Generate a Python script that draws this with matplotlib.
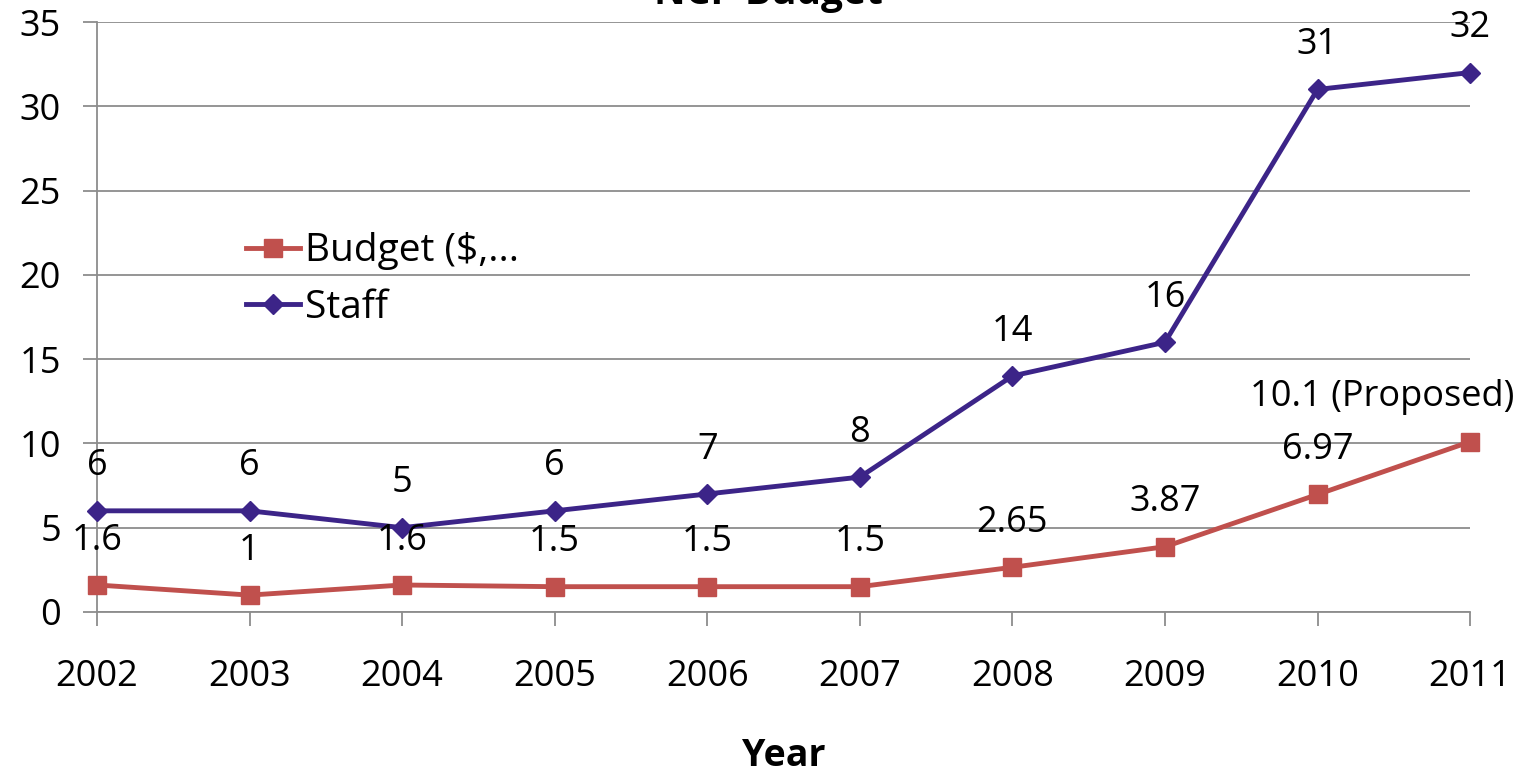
import matplotlib.pyplot as plt

years = [2002, 2003, 2004, 2005, 2006, 2007, 2008, 2009, 2010, 2011]
budget = [1.6, 1.0, 1.6, 1.5, 1.5, 1.5, 2.65, 3.87, 6.97, 10.1]
staff = [6, 6, 5, 6, 7, 8, 14, 16, 31, 32]
budget_labels = ['1.6', '1', '1.6', '1.5', '1.5', '1.5', '2.65', '3.87', '6.97', '10.1 (Proposed)']
staff_labels = ['6', '6', '5', '6', '7', '8', '14', '16', '31', '32']

plt.rcParams['font.family'] = ['Open Sans', 'DejaVu Sans']

red = '#C0504D'
purple = '#3C2488'
grey = '#8C8C8C'

fig = plt.figure(figsize=(15.28, 7.72), dpi=100)
ax = fig.add_axes([0.0635, 0.2073, 0.8986, 0.7642])

ax.plot(years, budget, color=red, lw=3.5, marker='s', ms=13, label='Budget ($,...', clip_on=False, zorder=3)
ax.plot(years, staff, color=purple, lw=3.5, marker='D', ms=10, label='Staff', clip_on=False, zorder=3)

# etiquettes des valeurs
for i in range(len(years)):
    ax.annotate(staff_labels[i], (years[i], staff[i]), xytext=(0, 32), textcoords='offset points',
                ha='center', va='center', fontsize=26)
    dx = 0
    if i == len(years) - 1:
        dx = -63
    ax.annotate(budget_labels[i], (years[i], budget[i]), xytext=(dx, 32), textcoords='offset points',
                ha='center', va='center', fontsize=26)

ax.set_xlim(2002, 2011)
ax.set_ylim(0, 35)
ax.set_xticks(years)
ax.set_yticks(range(0, 36, 5))
ax.tick_params(axis='both', labelsize=26, length=10, color=grey, width=1.3)
ax.tick_params(axis='x', pad=24)
ax.tick_params(axis='y', pad=16)
ax.grid(axis='y', color=grey, lw=1.3)
ax.set_axisbelow(True)
for s in ['top', 'right']:
    ax.spines[s].set_visible(False)
for s in ['left', 'bottom']:
    ax.spines[s].set_color(grey)
    ax.spines[s].set_linewidth(1.3)

ax.set_xlabel('Year', fontsize=27, fontweight='bold', labelpad=30)
fig.text(0.503, 0.995, 'NCP Budget', ha='center', va='baseline', fontsize=28, fontweight='bold')

ax.legend(loc='upper left', bbox_to_anchor=(0.097, 0.67), frameon=False, fontsize=28,
          handlelength=1.4, handletextpad=0.12, labelspacing=0.48, borderaxespad=0)

fig.savefig('out.png', dpi=100)
